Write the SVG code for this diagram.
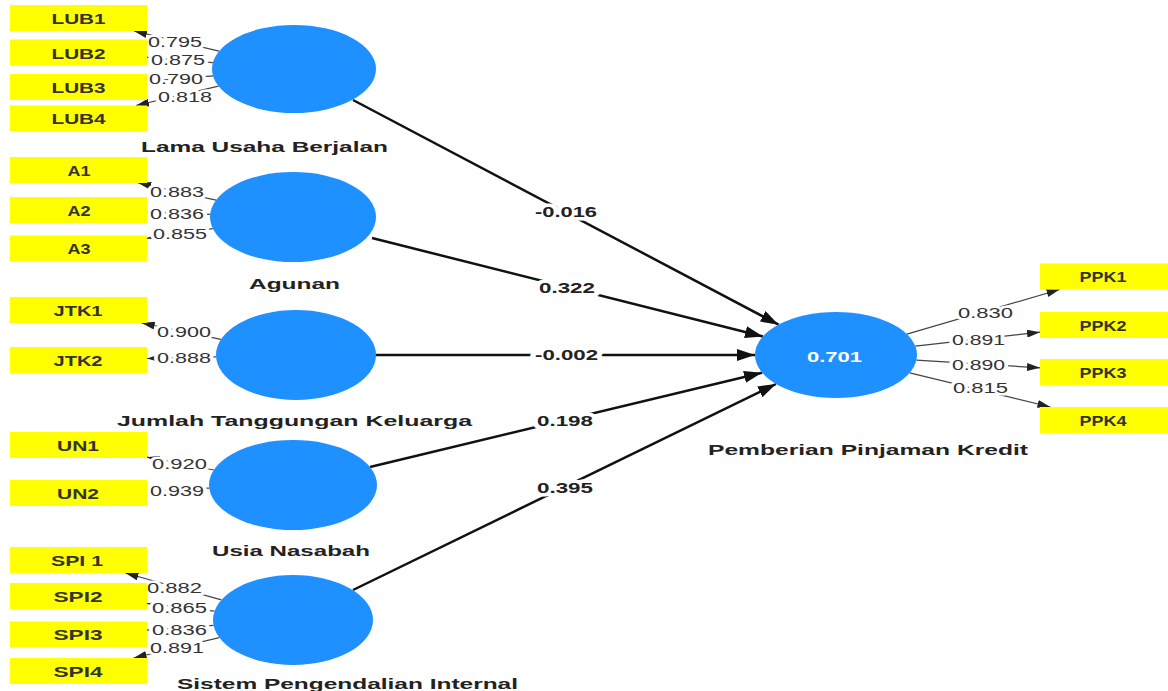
<svg xmlns="http://www.w3.org/2000/svg" width="1168" height="691" viewBox="0 0 1168 691">
<style>
.ind rect{fill:#ffff00}
.ind text{font-family:"Liberation Sans",Arial,sans-serif;font-weight:bold;font-size:14px;fill:#333}
.lat ellipse{fill:#1e90ff}
.lat text{font-family:"Liberation Sans",Arial,sans-serif;font-weight:bold;font-size:15px;fill:#222}
.path{stroke:#111;stroke-width:2.5;fill:none}
.outer{stroke:#444;stroke-width:1.2;fill:none}
.plbl{font-family:"Liberation Sans",Arial,sans-serif;font-weight:bold;font-size:14px;fill:#222;stroke:#fff;stroke-width:7;stroke-linejoin:round;paint-order:stroke}
.olbl{font-family:"Liberation Sans",Arial,sans-serif;font-size:14px;fill:#333;stroke:#fff;stroke-width:5;stroke-linejoin:round;paint-order:stroke}
.lat text.r2{font-size:14px;fill:#fff}
</style>
<defs>
<marker id="big" markerUnits="userSpaceOnUse" markerWidth="18" markerHeight="12" refX="18" refY="6" orient="auto"><path d="M0,0 L18,6 L0,12 z" fill="#111"/></marker>
<marker id="sm" markerUnits="userSpaceOnUse" markerWidth="13" markerHeight="8" refX="13" refY="4" orient="auto"><path d="M0,0 L13,4 L0,8 z" fill="#222"/></marker>
</defs>
<rect width="1168" height="691" fill="#fff"/>
<g id="connectors">
<path class="path" marker-end="url(#big)" d="M353,100 L778.6,324.7"/>
<path class="path" marker-end="url(#big)" d="M372,238 L763,336.5"/>
<path class="path" marker-end="url(#big)" d="M375,355 L755,355"/>
<path class="path" marker-end="url(#big)" d="M370,467 L762,372.7"/>
<path class="path" marker-end="url(#big)" d="M353,590 L776,384"/>
<text class="plbl" x="535" y="217" textLength="62" lengthAdjust="spacingAndGlyphs">-0.016</text>
<text class="plbl" x="539" y="293" textLength="56" lengthAdjust="spacingAndGlyphs">0.322</text>
<text class="plbl" x="535" y="360" textLength="63" lengthAdjust="spacingAndGlyphs">-0.002</text>
<text class="plbl" x="537" y="426" textLength="56" lengthAdjust="spacingAndGlyphs">0.198</text>
<text class="plbl" x="537" y="493" textLength="56" lengthAdjust="spacingAndGlyphs">0.395</text>
<path class="outer" marker-end="url(#sm)" d="M219,51.2 L134,31"/>
<path class="outer" marker-end="url(#sm)" d="M212.9,62.6 L147,57.3"/>
<path class="outer" marker-end="url(#sm)" d="M213,75.8 L147,81.4"/>
<path class="outer" marker-end="url(#sm)" d="M218.5,86.2 L136,105.5"/>
<path class="outer" marker-end="url(#sm)" d="M216.1,200.1 L138.2,183"/>
<path class="outer" marker-end="url(#sm)" d="M210.2,214.3 L147,212.2"/>
<path class="outer" marker-end="url(#sm)" d="M212.8,228.6 L147,238.3"/>
<path class="outer" marker-end="url(#sm)" d="M220.9,339.4 L141.7,323"/>
<path class="outer" marker-end="url(#sm)" d="M216.1,356.8 L147,358.5"/>
<path class="outer" marker-end="url(#sm)" d="M213.8,470 L147,457.2"/>
<path class="outer" marker-end="url(#sm)" d="M209.2,488.1 L147,490.5"/>
<path class="outer" marker-end="url(#sm)" d="M221.4,599.9 L125.4,573"/>
<path class="outer" marker-end="url(#sm)" d="M214.5,611.2 L147,603.5"/>
<path class="outer" marker-end="url(#sm)" d="M213.6,625.4 L147,630"/>
<path class="outer" marker-end="url(#sm)" d="M219.3,637.6 L133.6,658"/>
<path class="outer" marker-end="url(#sm)" d="M906.9,334.2 L1059.6,289.5"/>
<path class="outer" marker-end="url(#sm)" d="M915.3,346.1 L1040,332.2"/>
<path class="outer" marker-end="url(#sm)" d="M916.4,360.1 L1040,367.8"/>
<path class="outer" marker-end="url(#sm)" d="M909.7,372.9 L1050.4,407"/>
<text class="olbl" x="148" y="47" textLength="54" lengthAdjust="spacingAndGlyphs">0.795</text>
<text class="olbl" x="151" y="65" textLength="54" lengthAdjust="spacingAndGlyphs">0.875</text>
<text class="olbl" x="149" y="84" textLength="54" lengthAdjust="spacingAndGlyphs">0.790</text>
<text class="olbl" x="158" y="102" textLength="54" lengthAdjust="spacingAndGlyphs">0.818</text>
<text class="olbl" x="150" y="197" textLength="54" lengthAdjust="spacingAndGlyphs">0.883</text>
<text class="olbl" x="150" y="219" textLength="54" lengthAdjust="spacingAndGlyphs">0.836</text>
<text class="olbl" x="153" y="239" textLength="54" lengthAdjust="spacingAndGlyphs">0.855</text>
<text class="olbl" x="157" y="337" textLength="54" lengthAdjust="spacingAndGlyphs">0.900</text>
<text class="olbl" x="157" y="363" textLength="54" lengthAdjust="spacingAndGlyphs">0.888</text>
<text class="olbl" x="152" y="469" textLength="55" lengthAdjust="spacingAndGlyphs">0.920</text>
<text class="olbl" x="150" y="496" textLength="54" lengthAdjust="spacingAndGlyphs">0.939</text>
<text class="olbl" x="147" y="593" textLength="55" lengthAdjust="spacingAndGlyphs">0.882</text>
<text class="olbl" x="152" y="613" textLength="55" lengthAdjust="spacingAndGlyphs">0.865</text>
<text class="olbl" x="152" y="635" textLength="55" lengthAdjust="spacingAndGlyphs">0.836</text>
<text class="olbl" x="150" y="653" textLength="54" lengthAdjust="spacingAndGlyphs">0.891</text>
<text class="olbl" x="958" y="318" textLength="55" lengthAdjust="spacingAndGlyphs">0.830</text>
<text class="olbl" x="952" y="345" textLength="53" lengthAdjust="spacingAndGlyphs">0.891</text>
<text class="olbl" x="952" y="370" textLength="53" lengthAdjust="spacingAndGlyphs">0.890</text>
<text class="olbl" x="953" y="393" textLength="55" lengthAdjust="spacingAndGlyphs">0.815</text>
</g>
<g id="LUB" class="lat"><ellipse cx="294" cy="69" rx="82" ry="44"/><text x="141" y="152" textLength="247" lengthAdjust="spacingAndGlyphs">Lama Usaha Berjalan</text></g>
<g id="A" class="lat"><ellipse cx="293" cy="217" rx="83" ry="45"/><text x="249" y="289" textLength="91" lengthAdjust="spacingAndGlyphs">Agunan</text></g>
<g id="JTK" class="lat"><ellipse cx="296" cy="355" rx="80" ry="45"/><text x="117" y="426" textLength="355" lengthAdjust="spacingAndGlyphs">Jumlah Tanggungan Keluarga</text></g>
<g id="UN" class="lat"><ellipse cx="293" cy="485" rx="84" ry="45"/><text x="212" y="556" textLength="158" lengthAdjust="spacingAndGlyphs">Usia Nasabah</text></g>
<g id="SPI" class="lat"><ellipse cx="293" cy="620" rx="80" ry="45"/><text x="177" y="689" textLength="341" lengthAdjust="spacingAndGlyphs">Sistem Pengendalian Internal</text></g>
<g id="PPK" class="lat"><ellipse cx="836" cy="355" rx="81" ry="43"/><text class="r2" x="807" y="362" textLength="55" lengthAdjust="spacingAndGlyphs">0.701</text><text x="708" y="455" textLength="320" lengthAdjust="spacingAndGlyphs">Pemberian Pinjaman Kredit</text></g>
<g id="LUB1" class="ind"><rect x="10" y="5" width="137" height="26"/><text x="51.5" y="24" textLength="54" lengthAdjust="spacingAndGlyphs">LUB1</text></g>
<g id="LUB2" class="ind"><rect x="10" y="39.5" width="137" height="26"/><text x="51.5" y="59" textLength="54" lengthAdjust="spacingAndGlyphs">LUB2</text></g>
<g id="LUB3" class="ind"><rect x="10" y="74" width="137" height="26"/><text x="51.5" y="93" textLength="54" lengthAdjust="spacingAndGlyphs">LUB3</text></g>
<g id="LUB4" class="ind"><rect x="10" y="105.5" width="137" height="26"/><text x="51.5" y="124" textLength="54" lengthAdjust="spacingAndGlyphs">LUB4</text></g>
<g id="A1" class="ind"><rect x="10" y="157" width="137" height="26"/><text x="67.5" y="175.5" textLength="23" lengthAdjust="spacingAndGlyphs">A1</text></g>
<g id="A2" class="ind"><rect x="10" y="197" width="137" height="26"/><text x="67.5" y="215.5" textLength="23" lengthAdjust="spacingAndGlyphs">A2</text></g>
<g id="A3" class="ind"><rect x="10" y="235.5" width="137" height="26"/><text x="67.5" y="253.5" textLength="23" lengthAdjust="spacingAndGlyphs">A3</text></g>
<g id="JTK1" class="ind"><rect x="10" y="297" width="137" height="26"/><text x="53.5" y="315.5" textLength="49" lengthAdjust="spacingAndGlyphs">JTK1</text></g>
<g id="JTK2" class="ind"><rect x="10" y="347" width="137" height="26"/><text x="53.5" y="365.5" textLength="49" lengthAdjust="spacingAndGlyphs">JTK2</text></g>
<g id="UN1" class="ind"><rect x="10" y="432" width="137" height="26"/><text x="57" y="450.5" textLength="42" lengthAdjust="spacingAndGlyphs">UN1</text></g>
<g id="UN2" class="ind"><rect x="10" y="480" width="137" height="26"/><text x="57" y="498.5" textLength="42" lengthAdjust="spacingAndGlyphs">UN2</text></g>
<g id="SPI1" class="ind"><rect x="10" y="547" width="137" height="26"/><text x="51" y="565.5" textLength="52" lengthAdjust="spacingAndGlyphs">SPI 1</text></g>
<g id="SPI2" class="ind"><rect x="10" y="583" width="137" height="26"/><text x="53.5" y="601.5" textLength="49" lengthAdjust="spacingAndGlyphs">SPI2</text></g>
<g id="SPI3" class="ind"><rect x="10" y="621.5" width="137" height="26"/><text x="53.5" y="640" textLength="49" lengthAdjust="spacingAndGlyphs">SPI3</text></g>
<g id="SPI4" class="ind"><rect x="10" y="658" width="137" height="26"/><text x="53.5" y="676.5" textLength="49" lengthAdjust="spacingAndGlyphs">SPI4</text></g>
<g id="PPK1" class="ind"><rect x="1040" y="263.5" width="135" height="26"/><text x="1079.5" y="282" textLength="47" lengthAdjust="spacingAndGlyphs">PPK1</text></g>
<g id="PPK2" class="ind"><rect x="1040" y="312" width="135" height="26"/><text x="1079.5" y="330.5" textLength="47" lengthAdjust="spacingAndGlyphs">PPK2</text></g>
<g id="PPK3" class="ind"><rect x="1040" y="359" width="135" height="26"/><text x="1079.5" y="377.5" textLength="47" lengthAdjust="spacingAndGlyphs">PPK3</text></g>
<g id="PPK4" class="ind"><rect x="1040" y="407" width="135" height="26"/><text x="1079.5" y="425.5" textLength="47" lengthAdjust="spacingAndGlyphs">PPK4</text></g>
</svg>
